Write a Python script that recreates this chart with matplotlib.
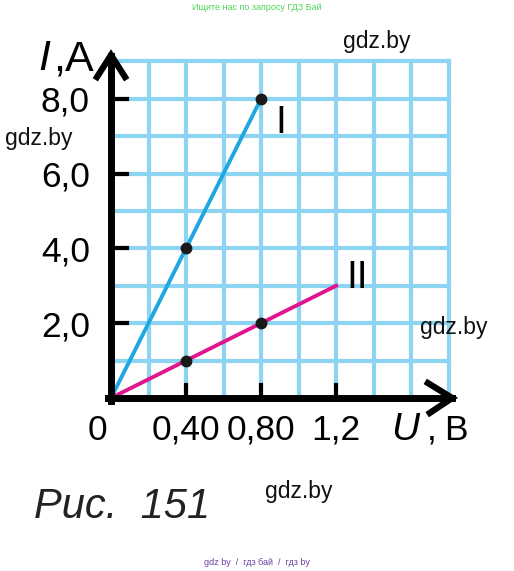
import numpy as np
import matplotlib
matplotlib.use("Agg")
import matplotlib.pyplot as plt

# data
u_line1 = [0.0, 0.40, 0.80]          # U, B
i_line1 = [0.0, 4.0, 8.0]            # I, A
u_line2 = [0.0, 0.40, 0.80, 1.2]
i_line2 = [0.0, 1.0, 2.0, 3.0]
u_dots1 = [0.40, 0.80]
i_dots1 = [4.0, 8.0]
u_dots2 = [0.40, 0.80]
i_dots2 = [1.0, 2.0]

x_ticks = [0.40, 0.80, 1.2]
x_labels = ["0,40", "0,80", "1,2"]
y_ticks = [2.0, 4.0, 6.0, 8.0]
y_labels = ["2,0", "4,0", "6,0", "8,0"]

W, H = 514, 571
GRID = "#8dd4f2"
BLUE = "#1ea8e0"
MAGENTA = "#e0168d"
SANS = "Liberation Sans"
FS = 25.5       # label size


def px(x, y):
    """pixel position -> figure fraction"""
    return x / W, 1 - y / H


fig = plt.figure(figsize=(W / 100, H / 100), dpi=100)
fig.patch.set_facecolor("white")

# origin at (111, 398) px, 0.2 V = 37.5 px, 1 A = 37.4 px
ox, oy = 111, 398
ax = fig.add_axes([ox / W, (H - oy) / H, 1.8 * 187.5 / W, 9 * 37.4 / H])
ax.set_xlim(0, 1.8)
ax.set_ylim(0, 9)
ax.axis("off")

# grid paper
for x in np.arange(0.2, 1.81, 0.2):
    ax.plot([x, x], [0, 9], color=GRID, lw=3, solid_capstyle="projecting",
            clip_on=False, zorder=1)
for y in range(1, 10):
    ax.plot([0, 1.8], [y, y], color=GRID, lw=3, solid_capstyle="projecting",
            clip_on=False, zorder=1)

# axes with open arrow heads
ax.plot([-0.015, 1.82], [0, 0], color="black", lw=5, clip_on=False, zorder=4)
ax.plot([0, 0], [-0.08, 9.15], color="black", lw=5, clip_on=False, zorder=4)
ax.plot([1.69, 1.82, 1.70], [0.40, 0, -0.40], color="black", lw=4.5,
        solid_joinstyle="miter", clip_on=False, zorder=4)
ax.plot([-0.075, 0, 0.075], [8.58, 9.17, 8.58], color="black", lw=4.5,
        solid_joinstyle="miter", clip_on=False, zorder=4)

# ticks
for x in x_ticks:
    ax.plot([x, x], [0, 0.36], color="black", lw=3, clip_on=False, zorder=3)
for y in y_ticks:
    ax.plot([0, 0.085], [y, y], color="black", lw=3, clip_on=False, zorder=3)

# the two graphs
ax.plot(u_line1, i_line1, color=BLUE, lw=2.8, zorder=3, clip_on=False)
ax.plot(u_line2, i_line2, color=MAGENTA, lw=2.8, zorder=3, clip_on=False)
ax.plot(u_dots1, i_dots1, "o", color="#1a1a1a", ms=7.5, zorder=5)
ax.plot(u_dots2, i_dots2, "o", color="#1a1a1a", ms=7.5, zorder=5)

# tick labels
lab_y = -(427 - oy) / 37.4
for x, lab in zip(x_ticks, x_labels):
    ax.text(x, lab_y, lab, fontsize=FS, family=SANS,
            ha="center", va="center_baseline", clip_on=False)
for y, lab in zip(y_ticks, y_labels):
    ax.text(-(ox - 90) / 187.5, y, lab, fontsize=FS, family=SANS,
            ha="right", va="center_baseline", clip_on=False)

fig.text(*px(97, 427), "0", fontsize=FS, family=SANS,
         ha="center", va="center_baseline")

# axis names
fig.text(*px(38, 70), "I", fontsize=31, family=SANS, style="italic",
         ha="left", va="baseline")
fig.text(*px(53, 70), ",A", fontsize=31, family=SANS, ha="left", va="baseline")
fig.text(*px(391, 440), "U", fontsize=28, family=SANS, style="italic",
         ha="left", va="baseline")
fig.text(*px(427, 440), ",", fontsize=FS, family=SANS, ha="left", va="baseline")
fig.text(*px(444, 440), "B", fontsize=FS, family=SANS, ha="left", va="baseline")

# graph names
fig.text(*px(281, 133), "I", fontsize=28, family=SANS, ha="center", va="baseline")
fig.text(*px(357, 288), "II", fontsize=28, family=SANS, ha="center", va="baseline")

# caption
fig.text(*px(34, 518), "Рис.  151", fontsize=30, family=SANS, style="italic",
         ha="left", va="baseline", color="#222222")

# watermarks
for x, y in [(343, 48), (5, 145), (420, 334), (265, 498)]:
    fig.text(*px(x, y), "gdz.by", fontsize=16.5, family=SANS,
             ha="left", va="baseline", color="#111111")
fig.text(*px(257, 10), "Ищите нас по запросу ГДЗ Бай", fontsize=6.5,
         family=SANS, ha="center", va="baseline", color="#4fd65a")
fig.text(*px(257, 565), "gdz by  /  гдз бай  /  гдз by", fontsize=6.5,
         family=SANS, ha="center", va="baseline", color="#6b3fa0")

fig.savefig("out.png", dpi=100)
